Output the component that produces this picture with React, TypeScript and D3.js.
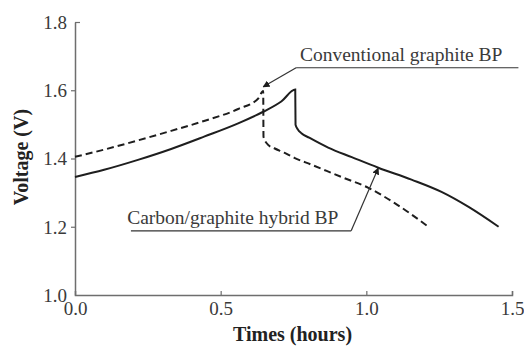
import React, { useEffect, useRef } from 'react'
import * as d3 from 'd3'

// Carbon/graphite hybrid BP (solid)
const hybridTime = [0, 0.1, 0.216, 0.33, 0.443, 0.56, 0.646, 0.708, 0.756, 0.757, 0.765, 0.777, 0.804, 0.869, 0.95, 1.041, 1.155, 1.258, 1.351, 1.454]
const hybridVolt = [1.346, 1.367, 1.396, 1.428, 1.464, 1.503, 1.537, 1.567, 1.602, 1.499, 1.485, 1.474, 1.461, 1.432, 1.404, 1.373, 1.338, 1.302, 1.258, 1.2]

// Conventional graphite BP (dashed)
const convTime = [0, 0.1, 0.216, 0.33, 0.443, 0.56, 0.629, 0.646, 0.647, 0.663, 0.684, 0.718, 0.753, 0.811, 0.914, 1.007, 1.096, 1.213]
const convVolt = [1.405, 1.426, 1.453, 1.481, 1.51, 1.545, 1.576, 1.598, 1.464, 1.44, 1.43, 1.417, 1.402, 1.382, 1.346, 1.314, 1.27, 1.2]

const xTicks = [0, 0.5, 1.0, 1.5]
const yTicks = [1.0, 1.2, 1.4, 1.6, 1.8]

const App = () => {
  const ref = useRef<SVGSVGElement>(null)

  useEffect(() => {
    const svg = d3.select(ref.current)
    svg.selectAll('*').remove()

    const width = 524
    const height = 346
    const margin = { top: 22, right: 13, bottom: 51, left: 75 }
    const font = '"Liberation Serif", "Times New Roman", serif'
    const axisColor = '#6e6e6e'
    const textColor = '#3a3a3a'

    const x = d3.scaleLinear().domain([0, 1.5]).range([margin.left, width - margin.right + 1])
    const y = d3.scaleLinear().domain([1.0, 1.8]).range([height - margin.bottom, margin.top])

    // axes
    const xAxis = svg
      .append('g')
      .attr('transform', `translate(0,${y(1.0)})`)
      .call(d3.axisBottom(x).tickValues(xTicks).tickSize(-4).tickFormat(d3.format('.1f')))
    xAxis.select('.domain').attr('stroke', axisColor).attr('stroke-width', 1.5)
    xAxis.selectAll('.tick line').attr('stroke', axisColor).attr('stroke-width', 1.2)
    xAxis.selectAll('.tick').filter((d) => d === 0).select('line').remove()
    xAxis
      .selectAll('text')
      .attr('y', 20)
      .attr('dy', 0)
      .attr('font-family', font)
      .attr('font-size', 19)
      .attr('fill', textColor)

    const yAxis = svg
      .append('g')
      .attr('transform', `translate(${x(0)},0)`)
      .call(d3.axisLeft(y).tickValues(yTicks).tickSize(4).tickSizeOuter(0).tickFormat(d3.format('.1f')))
    yAxis.select('.domain').attr('stroke', axisColor).attr('stroke-width', 1.5)
    yAxis.selectAll('.tick line').attr('stroke', axisColor).attr('stroke-width', 1.2)
    yAxis.selectAll('.tick').filter((d) => d === 1.0).select('line').remove()
    yAxis.selectAll('.tick').filter((d) => d === 1.8).select('line').attr('x2', 5)
    yAxis
      .selectAll('text')
      .attr('x', -8)
      .attr('dy', '0.33em')
      .attr('font-family', font)
      .attr('font-size', 19)
      .attr('fill', textColor)

    // axis titles
    svg
      .append('text')
      .attr('x', x(0.75) - 1)
      .attr('y', 341)
      .attr('text-anchor', 'middle')
      .attr('font-family', font)
      .attr('font-weight', 'bold')
      .attr('font-size', 20)
      .attr('fill', '#222')
      .text('Times (hours)')

    svg
      .append('text')
      .attr('transform', `translate(28,${y(1.404)}) rotate(-90)`)
      .attr('text-anchor', 'middle')
      .attr('font-family', font)
      .attr('font-weight', 'bold')
      .attr('font-size', 20)
      .attr('fill', '#222')
      .text('Voltage (V)')

    // curves
    const line = d3
      .line<[number, number]>()
      .x((d) => x(d[0]))
      .y((d) => y(d[1]))
      .curve(d3.curveMonotoneX)

    const hybrid = hybridTime.map((t, i) => [t, hybridVolt[i]] as [number, number])
    const conv = convTime.map((t, i) => [t, convVolt[i]] as [number, number])

    svg
      .append('path')
      .datum(hybrid)
      .attr('d', line)
      .attr('fill', 'none')
      .attr('stroke', '#1e1e1e')
      .attr('stroke-width', 2)

    svg
      .append('path')
      .datum(conv)
      .attr('d', line)
      .attr('fill', 'none')
      .attr('stroke', '#1e1e1e')
      .attr('stroke-width', 2)
      .attr('stroke-dasharray', '7,4')

    // annotations
    svg
      .append('defs')
      .append('marker')
      .attr('id', 'arrow')
      .attr('viewBox', '0 0 10 10')
      .attr('refX', 9)
      .attr('refY', 5)
      .attr('markerWidth', 7)
      .attr('markerHeight', 7)
      .attr('markerUnits', 'userSpaceOnUse')
      .attr('orient', 'auto')
      .append('path')
      .attr('d', 'M0,0 L10,5 L0,10 z')
      .attr('fill', '#1e1e1e')

    const labels = [
      { text: 'Conventional graphite BP', textX: 0.772, lineY: 1.666, from: 0.759, to: 1.522, tip: [0.646, 1.61], elbow: 0.759 },
      { text: 'Carbon/graphite hybrid BP', textX: 0.179, lineY: 1.188, from: 0.192, to: 0.948, tip: [1.041, 1.372], elbow: 0.948 },
    ]

    labels.forEach((l) => {
      svg
        .append('text')
        .attr('x', x(l.textX))
        .attr('y', y(l.lineY) - 7)
        .attr('font-family', font)
        .attr('font-size', 19.5)
        .attr('fill', textColor)
        .text(l.text)
      svg
        .append('line')
        .attr('x1', x(l.from))
        .attr('x2', x(l.to))
        .attr('y1', y(l.lineY))
        .attr('y2', y(l.lineY))
        .attr('stroke', '#333')
        .attr('stroke-width', 1.2)
      svg
        .append('line')
        .attr('x1', x(l.elbow))
        .attr('y1', y(l.lineY))
        .attr('x2', x(l.tip[0]))
        .attr('y2', y(l.tip[1]))
        .attr('stroke', '#333')
        .attr('stroke-width', 1.2)
        .attr('marker-end', 'url(#arrow)')
    })
  }, [])

  return (
    <svg
      ref={ref}
      width={524}
      height={346}
      style={{ position: 'absolute', left: 0, top: 0, background: '#fff' }}
    ></svg>
  )
}

export default App
